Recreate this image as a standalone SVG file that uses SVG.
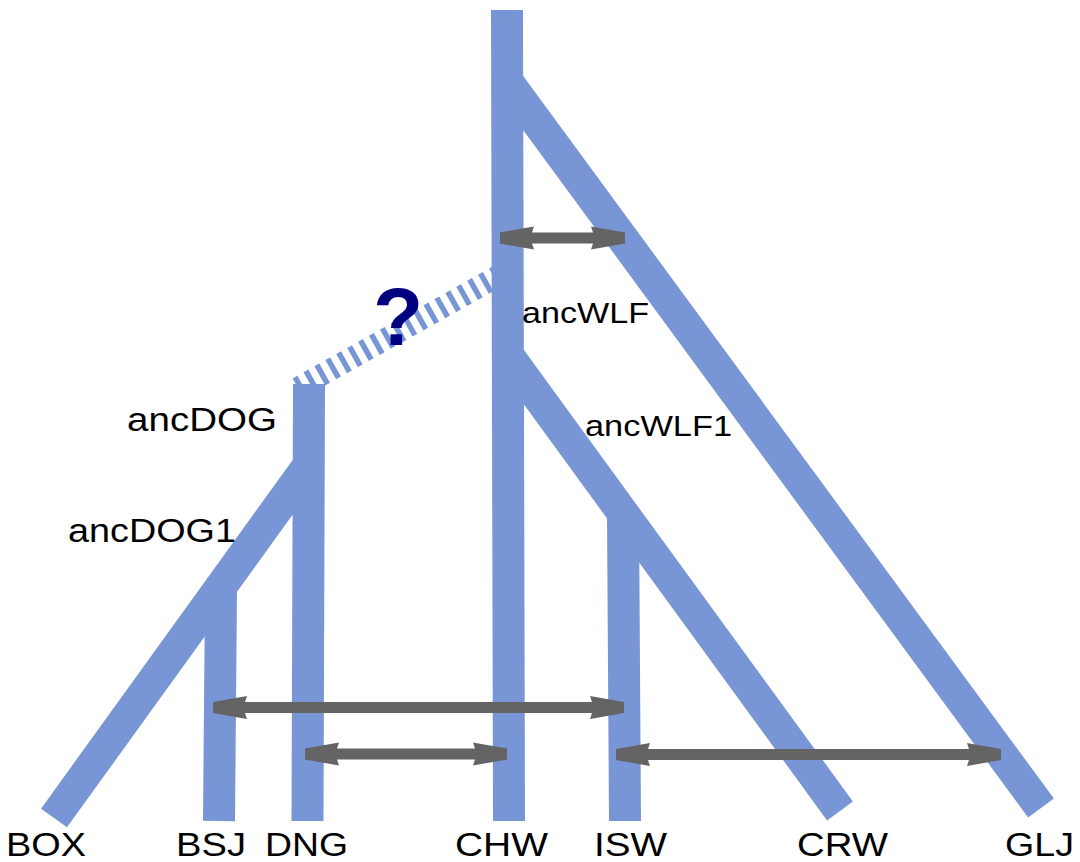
<svg xmlns="http://www.w3.org/2000/svg" width="1080" height="862" viewBox="0 0 1080 862">
  <style>
    .br { stroke: #7896d5; stroke-width: 32; fill: none; stroke-linecap: butt; }
    .dash { stroke: #7896d5; stroke-width: 22; fill: none; stroke-dasharray: 5.5 7; }
    .gf { stroke: #646464; stroke-width: 11; fill: none; marker-start: url(#head); marker-end: url(#head); }
    .lbl { font-family: "Liberation Sans", Arial, sans-serif; fill: #000000; }
    .q { font-family: "Liberation Sans", Arial, sans-serif; font-weight: bold; fill: #000080; }
  </style>
  <defs>
    <marker id="head" markerUnits="userSpaceOnUse" viewBox="0 -12 36 24" markerWidth="36" markerHeight="24" refX="34" refY="0" orient="auto-start-reverse" overflow="visible">
      <path d="M2,-5.5 L0,-11.5 L34,-5.5 L34,5.5 L0,11.5 L2,5.5 Z" fill="#646464"/>
    </marker>
  </defs>
  <rect width="1080" height="862" fill="#ffffff"/>

  <g id="uncertain-link">
    <line class="dash" x1="298" y1="388" x2="500" y2="275"/>
  </g>

  <g id="BOX">
    <line class="br" x1="308" y1="466" x2="54" y2="818"/>
    <text class="lbl" x="6" y="856" font-size="33" textLength="80" lengthAdjust="spacingAndGlyphs">BOX</text>
  </g>
  <g id="GLJ">
    <line class="br" x1="507" y1="81" x2="1041" y2="808"/>
    <text class="lbl" x="1005" y="856" font-size="33" textLength="69" lengthAdjust="spacingAndGlyphs">GLJ</text>
  </g>
  <g id="CRW">
    <line class="br" x1="507" y1="354" x2="840" y2="811"/>
    <text class="lbl" x="797" y="856" font-size="33" textLength="91" lengthAdjust="spacingAndGlyphs">CRW</text>
  </g>
  <g id="BSJ">
    <line class="br" x1="221" y1="590" x2="219" y2="821"/>
    <text class="lbl" x="176" y="856" font-size="33" textLength="70" lengthAdjust="spacingAndGlyphs">BSJ</text>
  </g>
  <g id="DNG">
    <line class="br" x1="309" y1="384" x2="307.5" y2="821"/>
    <text class="lbl" x="265" y="856" font-size="33" textLength="83" lengthAdjust="spacingAndGlyphs">DNG</text>
  </g>
  <g id="ISW">
    <line class="br" x1="623" y1="515" x2="625" y2="821"/>
    <text class="lbl" x="594" y="856" font-size="33" textLength="73" lengthAdjust="spacingAndGlyphs">ISW</text>
  </g>
  <g id="CHW">
    <line class="br" x1="507" y1="10" x2="509" y2="821"/>
    <text class="lbl" x="455" y="856" font-size="33" textLength="93" lengthAdjust="spacingAndGlyphs">CHW</text>
  </g>

  <g id="ancDOG">
    <text class="lbl" x="127" y="431" font-size="33" textLength="150" lengthAdjust="spacingAndGlyphs">ancDOG</text>
  </g>
  <g id="ancDOG1">
    <text class="lbl" x="68" y="542" font-size="33" textLength="168" lengthAdjust="spacingAndGlyphs">ancDOG1</text>
  </g>
  <g id="ancWLF">
    <text class="lbl" x="522" y="323" font-size="30" textLength="127" lengthAdjust="spacingAndGlyphs">ancWLF</text>
  </g>
  <g id="ancWLF1">
    <text class="lbl" x="585" y="436" font-size="30" textLength="147" lengthAdjust="spacingAndGlyphs">ancWLF1</text>
  </g>

  <g id="connectors">
    <line class="gf" x1="500" y1="238" x2="625" y2="238"/>
    <line class="gf" x1="213" y1="707.5" x2="624" y2="707.5"/>
    <line class="gf" x1="305" y1="754" x2="507" y2="754"/>
    <line class="gf" x1="616" y1="754.5" x2="1001" y2="754.5"/>
  </g>

  <g id="question">
    <text class="q" x="398" y="345" font-size="82" text-anchor="middle">?</text>
  </g>
</svg>
